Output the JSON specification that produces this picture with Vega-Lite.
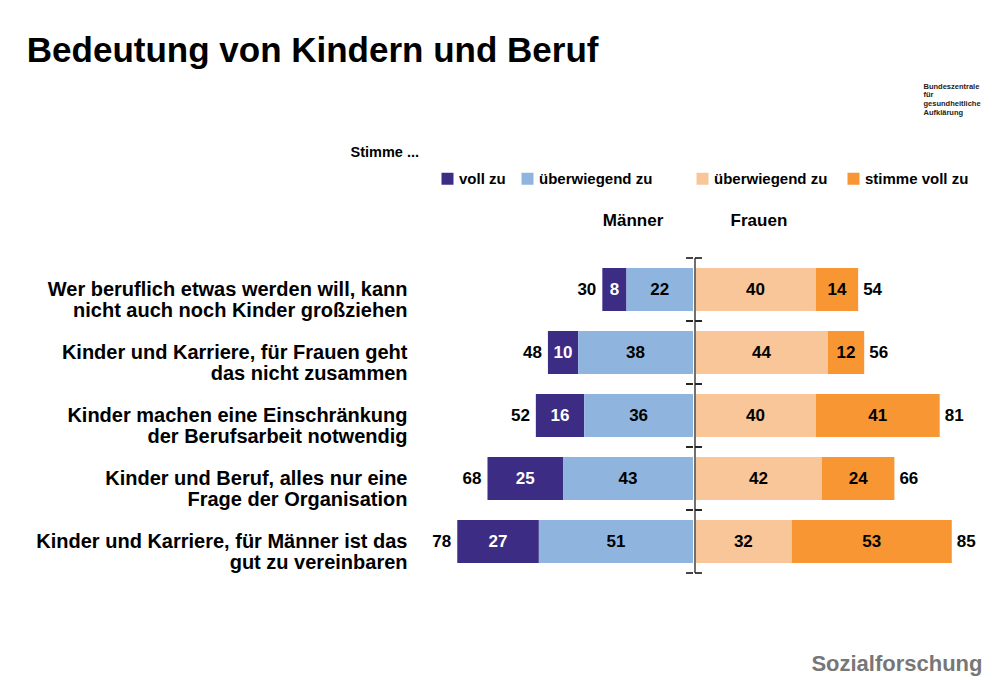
{
  "$schema": "https://vega.github.io/schema/vega-lite/v6.json",
  "padding": {"left": 26, "top": 34, "right": 4, "bottom": 4},
  "background": "white",
  "config": {
    "font": "Liberation Sans",
    "view": {"stroke": null},
    "legend": {
      "labelFont": "Liberation Sans",
      "labelFontSize": 15,
      "labelFontWeight": "bold",
      "labelColor": "black",
      "symbolType": "square",
      "symbolSize": 144,
      "symbolStrokeWidth": 0,
      "labelOffset": 4,
      "padding": 0
    }
  },
  "title": {
    "text": "Bedeutung von Kindern und Beruf",
    "anchor": "start",
    "font": "Liberation Sans",
    "fontSize": 35,
    "fontWeight": "bold",
    "color": "black",
    "offset": 13,
    "dx": -9
  },
  "data": {
    "values": [
      {"q": "Wer beruflich etwas werden will, kann|nicht auch noch Kinder großziehen", "sex": "Männer", "resp": "voll zu", "v": 8},
      {"q": "Wer beruflich etwas werden will, kann|nicht auch noch Kinder großziehen", "sex": "Männer", "resp": "überwiegend zu", "v": 22},
      {"q": "Wer beruflich etwas werden will, kann|nicht auch noch Kinder großziehen", "sex": "Frauen", "resp": "überwiegend zu", "v": 40},
      {"q": "Wer beruflich etwas werden will, kann|nicht auch noch Kinder großziehen", "sex": "Frauen", "resp": "stimme voll zu", "v": 14},
      {"q": "Kinder und Karriere, für Frauen geht|das nicht zusammen", "sex": "Männer", "resp": "voll zu", "v": 10},
      {"q": "Kinder und Karriere, für Frauen geht|das nicht zusammen", "sex": "Männer", "resp": "überwiegend zu", "v": 38},
      {"q": "Kinder und Karriere, für Frauen geht|das nicht zusammen", "sex": "Frauen", "resp": "überwiegend zu", "v": 44},
      {"q": "Kinder und Karriere, für Frauen geht|das nicht zusammen", "sex": "Frauen", "resp": "stimme voll zu", "v": 12},
      {"q": "Kinder machen eine Einschränkung|der Berufsarbeit notwendig", "sex": "Männer", "resp": "voll zu", "v": 16},
      {"q": "Kinder machen eine Einschränkung|der Berufsarbeit notwendig", "sex": "Männer", "resp": "überwiegend zu", "v": 36},
      {"q": "Kinder machen eine Einschränkung|der Berufsarbeit notwendig", "sex": "Frauen", "resp": "überwiegend zu", "v": 40},
      {"q": "Kinder machen eine Einschränkung|der Berufsarbeit notwendig", "sex": "Frauen", "resp": "stimme voll zu", "v": 41},
      {"q": "Kinder und Beruf, alles nur eine|Frage der Organisation", "sex": "Männer", "resp": "voll zu", "v": 25},
      {"q": "Kinder und Beruf, alles nur eine|Frage der Organisation", "sex": "Männer", "resp": "überwiegend zu", "v": 43},
      {"q": "Kinder und Beruf, alles nur eine|Frage der Organisation", "sex": "Frauen", "resp": "überwiegend zu", "v": 42},
      {"q": "Kinder und Beruf, alles nur eine|Frage der Organisation", "sex": "Frauen", "resp": "stimme voll zu", "v": 24},
      {"q": "Kinder und Karriere, für Männer ist das|gut zu vereinbaren", "sex": "Männer", "resp": "voll zu", "v": 27},
      {"q": "Kinder und Karriere, für Männer ist das|gut zu vereinbaren", "sex": "Männer", "resp": "überwiegend zu", "v": 51},
      {"q": "Kinder und Karriere, für Männer ist das|gut zu vereinbaren", "sex": "Frauen", "resp": "überwiegend zu", "v": 32},
      {"q": "Kinder und Karriere, für Männer ist das|gut zu vereinbaren", "sex": "Frauen", "resp": "stimme voll zu", "v": 53}
    ]
  },
  "spacing": 0,
  "resolve": {"scale": {"color": "independent", "x": "independent", "y": "independent"}},
  "hconcat": [
    {
      "width": 272,
      "height": 315,
      "transform": [{"filter": "datum.sex === 'Männer'"}],
      "layer": [
        {
          "mark": {"type": "bar", "height": {"band": 0.68}},
          "encoding": {
            "y": {
              "field": "q", "type": "nominal",
              "sort": ["Wer beruflich etwas werden will, kann|nicht auch noch Kinder großziehen", "Kinder und Karriere, für Frauen geht|das nicht zusammen", "Kinder machen eine Einschränkung|der Berufsarbeit notwendig", "Kinder und Beruf, alles nur eine|Frage der Organisation", "Kinder und Karriere, für Männer ist das|gut zu vereinbaren"],
              "scale": {"paddingInner": 0, "paddingOuter": 0},
              "axis": {
                "orient": "left",
                "domain": false, "ticks": false, "tickSize": 0, "grid": false,
                "labelExpr": "split(datum.label, '|')",
                "labelFont": "Liberation Sans",
                "labelFontSize": 20, "labelFontWeight": "bold", "labelColor": "black",
                "labelLineHeight": 21, "labelPadding": 14, "labelLimit": 600,
                "labelAlign": "right", "labelBaseline": "middle",
                "title": "Stimme ...",
                "titleFont": "Liberation Sans",
                "titleFontSize": 14.5, "titleFontWeight": "bold", "titleColor": "black",
                "titleAngle": 0, "titleX": -71, "titleY": -106,
                "titleAlign": "left", "titleBaseline": "middle"
              }
            },
            "x": {
              "field": "v", "type": "quantitative", "stack": "zero",
              "scale": {"domain": [0, 90], "reverse": true, "nice": false, "zero": true},
              "axis": {
                "orient": "top", "values": [20], "labelExpr": "'Männer'",
                "domain": false, "ticks": false, "tickSize": 0, "grid": false, "title": null,
                "labelFont": "Liberation Sans",
                "labelFontSize": 17, "labelFontWeight": "bold", "labelColor": "black",
                "labelPadding": 29
              }
            },
            "color": {
              "field": "resp", "type": "nominal",
              "scale": {"domain": ["voll zu", "überwiegend zu"], "range": ["#3d2c84", "#8fb5df"]},
              "legend": {"orient": "none", "legendX": 19, "legendY": -87, "direction": "horizontal", "title": null, "columnPadding": 14}
            },
            "order": {"field": "resp", "sort": "descending"}
          }
        },
        {
          "mark": {"type": "text", "fontSize": 17, "fontWeight": "bold"},
          "encoding": {
            "y": {"field": "q", "type": "nominal", "sort": ["Wer beruflich etwas werden will, kann|nicht auch noch Kinder großziehen", "Kinder und Karriere, für Frauen geht|das nicht zusammen", "Kinder machen eine Einschränkung|der Berufsarbeit notwendig", "Kinder und Beruf, alles nur eine|Frage der Organisation", "Kinder und Karriere, für Männer ist das|gut zu vereinbaren"]},
            "x": {"field": "v", "type": "quantitative", "stack": "zero", "bandPosition": 0.5},
            "detail": {"field": "resp"},
            "order": {"field": "resp", "sort": "descending"},
            "text": {"field": "v", "type": "quantitative"},
            "color": {"condition": {"test": "datum.resp === 'voll zu'", "value": "white"}, "value": "black"}
          }
        },
        {
          "transform": [{"aggregate": [{"op": "sum", "field": "v", "as": "total"}], "groupby": ["q"]}],
          "mark": {"type": "text", "fontSize": 17, "fontWeight": "bold", "align": "right", "dx": -6, "color": "black"},
          "encoding": {
            "y": {"field": "q", "type": "nominal", "sort": ["Wer beruflich etwas werden will, kann|nicht auch noch Kinder großziehen", "Kinder und Karriere, für Frauen geht|das nicht zusammen", "Kinder machen eine Einschränkung|der Berufsarbeit notwendig", "Kinder und Beruf, alles nur eine|Frage der Organisation", "Kinder und Karriere, für Männer ist das|gut zu vereinbaren"]},
            "x": {"field": "total", "type": "quantitative"},
            "text": {"field": "total", "type": "quantitative"}
          }
        },
        {
          "mark": {"type": "rule", "color": "#222222", "strokeWidth": 1.2},
          "encoding": {
            "y": {"field": "q", "type": "nominal", "bandPosition": 0, "sort": ["Wer beruflich etwas werden will, kann|nicht auch noch Kinder großziehen", "Kinder und Karriere, für Frauen geht|das nicht zusammen", "Kinder machen eine Einschränkung|der Berufsarbeit notwendig", "Kinder und Beruf, alles nur eine|Frage der Organisation", "Kinder und Karriere, für Männer ist das|gut zu vereinbaren"]},
            "x": {"datum": 0},
            "x2": {"datum": 2.3}
          }
        },
        {
          "mark": {"type": "rule", "color": "#222222", "strokeWidth": 1.2},
          "encoding": {
            "y": {"field": "q", "type": "nominal", "bandPosition": 1, "sort": ["Wer beruflich etwas werden will, kann|nicht auch noch Kinder großziehen", "Kinder und Karriere, für Frauen geht|das nicht zusammen", "Kinder machen eine Einschränkung|der Berufsarbeit notwendig", "Kinder und Beruf, alles nur eine|Frage der Organisation", "Kinder und Karriere, für Männer ist das|gut zu vereinbaren"]},
            "x": {"datum": 0},
            "x2": {"datum": 2.3}
          }
        }
      ]
    },
    {
      "width": 287,
      "height": 315,
      "transform": [{"filter": "datum.sex === 'Frauen'"}],
      "resolve": {"axis": {"x": "independent"}},
      "layer": [
        {
          "mark": {"type": "bar", "height": {"band": 0.68}},
          "encoding": {
            "y": {
              "field": "q", "type": "nominal",
              "sort": ["Wer beruflich etwas werden will, kann|nicht auch noch Kinder großziehen", "Kinder und Karriere, für Frauen geht|das nicht zusammen", "Kinder machen eine Einschränkung|der Berufsarbeit notwendig", "Kinder und Beruf, alles nur eine|Frage der Organisation", "Kinder und Karriere, für Männer ist das|gut zu vereinbaren"],
              "scale": {"paddingInner": 0, "paddingOuter": 0},
              "axis": null
            },
            "x": {
              "field": "v", "type": "quantitative", "stack": "zero",
              "scale": {"domain": [0, 95], "nice": false, "zero": true},
              "axis": {
                "orient": "top", "values": [21], "labelExpr": "'Frauen'",
                "domain": false, "ticks": false, "tickSize": 0, "grid": false,
                "labelFont": "Liberation Sans",
                "labelFontSize": 17, "labelFontWeight": "bold", "labelColor": "black",
                "labelPadding": 29,
                "title": ["Bundeszentrale", "für", "gesundheitliche", "Aufklärung"],
                "titleFont": "Liberation Sans", "titleFontSize": 7.5, "titleFontWeight": "bold", "titleColor": "#222222",
                "titleLineHeight": 8.8, "titleAngle": 0, "titleX": 228, "titleY": -176,
                "titleAlign": "left", "titleBaseline": "top"
              }
            },
            "color": {
              "field": "resp", "type": "nominal",
              "scale": {"domain": ["überwiegend zu", "stimme voll zu"], "range": ["#f8c699", "#f79632"]},
              "legend": {"orient": "none", "legendX": 0, "legendY": -87, "direction": "horizontal", "title": null, "columnPadding": 18}
            },
            "order": {"field": "resp", "sort": "descending"}
          }
        },
        {
          "mark": {"type": "text", "fontSize": 17, "fontWeight": "bold", "color": "black"},
          "encoding": {
            "y": {"field": "q", "type": "nominal", "sort": ["Wer beruflich etwas werden will, kann|nicht auch noch Kinder großziehen", "Kinder und Karriere, für Frauen geht|das nicht zusammen", "Kinder machen eine Einschränkung|der Berufsarbeit notwendig", "Kinder und Beruf, alles nur eine|Frage der Organisation", "Kinder und Karriere, für Männer ist das|gut zu vereinbaren"], "axis": null},
            "x": {"field": "v", "type": "quantitative", "stack": "zero", "bandPosition": 0.5, "axis": null},
            "detail": {"field": "resp"},
            "order": {"field": "resp", "sort": "descending"},
            "text": {"field": "v", "type": "quantitative"}
          }
        },
        {
          "transform": [{"aggregate": [{"op": "sum", "field": "v", "as": "total"}], "groupby": ["q"]}],
          "mark": {"type": "text", "fontSize": 17, "fontWeight": "bold", "align": "left", "dx": 5, "color": "black"},
          "encoding": {
            "y": {"field": "q", "type": "nominal", "sort": ["Wer beruflich etwas werden will, kann|nicht auch noch Kinder großziehen", "Kinder und Karriere, für Frauen geht|das nicht zusammen", "Kinder machen eine Einschränkung|der Berufsarbeit notwendig", "Kinder und Beruf, alles nur eine|Frage der Organisation", "Kinder und Karriere, für Männer ist das|gut zu vereinbaren"], "axis": null},
            "x": {
              "field": "total", "type": "quantitative",
              "axis": {
                "orient": "bottom", "labels": false, "ticks": false, "tickSize": 0, "domain": false, "grid": false,
                "title": "Sozialforschung", "titleAnchor": "end", "titleAlign": "right",
                "titleFont": "Liberation Sans", "titleFontSize": 22, "titleFontWeight": "bold", "titleColor": "#777777",
                "titlePadding": 80
              }
            },
            "text": {"field": "total", "type": "quantitative"}
          }
        },
        {
          "mark": {"type": "rule", "color": "#707070", "strokeWidth": 2},
          "encoding": {"x": {"datum": 0, "axis": null}}
        },
        {
          "mark": {"type": "rule", "color": "#222222", "strokeWidth": 1.2},
          "encoding": {
            "y": {"field": "q", "type": "nominal", "bandPosition": 0, "sort": ["Wer beruflich etwas werden will, kann|nicht auch noch Kinder großziehen", "Kinder und Karriere, für Frauen geht|das nicht zusammen", "Kinder machen eine Einschränkung|der Berufsarbeit notwendig", "Kinder und Beruf, alles nur eine|Frage der Organisation", "Kinder und Karriere, für Männer ist das|gut zu vereinbaren"], "axis": null},
            "x": {"datum": 0, "axis": null},
            "x2": {"datum": 2.3}
          }
        },
        {
          "mark": {"type": "rule", "color": "#222222", "strokeWidth": 1.2},
          "encoding": {
            "y": {"field": "q", "type": "nominal", "bandPosition": 1, "sort": ["Wer beruflich etwas werden will, kann|nicht auch noch Kinder großziehen", "Kinder und Karriere, für Frauen geht|das nicht zusammen", "Kinder machen eine Einschränkung|der Berufsarbeit notwendig", "Kinder und Beruf, alles nur eine|Frage der Organisation", "Kinder und Karriere, für Männer ist das|gut zu vereinbaren"], "axis": null},
            "x": {"datum": 0, "axis": null},
            "x2": {"datum": 2.3}
          }
        }
      ]
    }
  ]
}
